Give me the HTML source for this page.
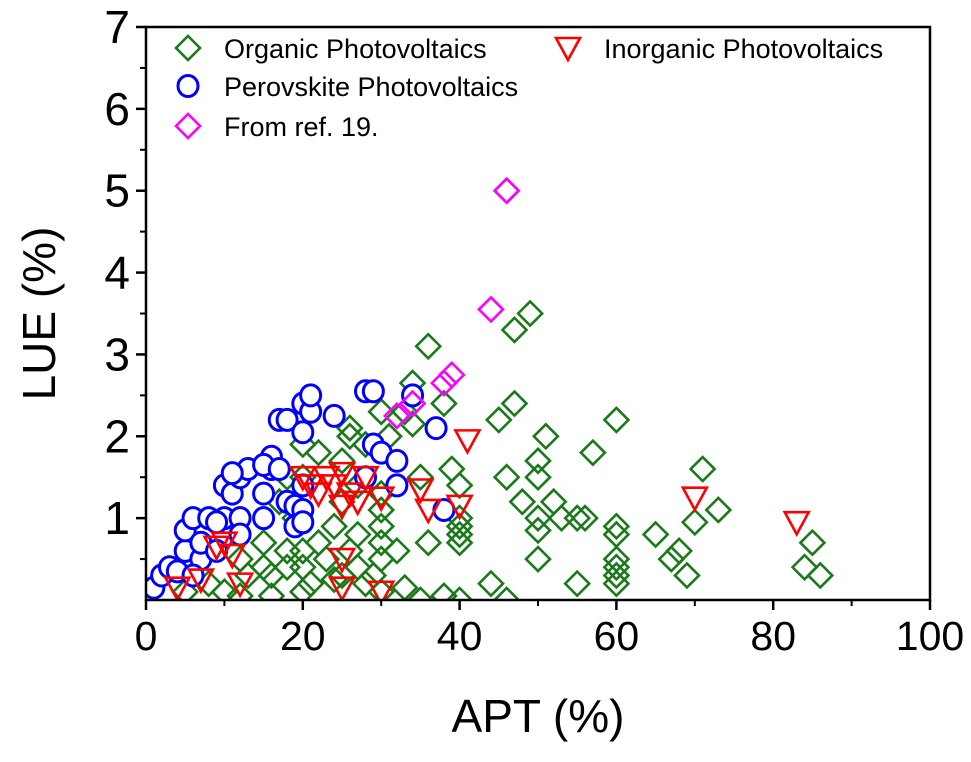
<!DOCTYPE html>
<html><head><meta charset="utf-8"><style>
body{margin:0;background:#fff}
svg text{font-family:"Liberation Sans",sans-serif}
</style></head><body>
<svg id="c" width="971" height="757" viewBox="0 0 971 757"></svg>
<script>
const organicX=[85,84,86,73,71,70,69,68,67,65,60,60,60,60,60,60,60,57,56,55,55,53,52,51,50,50,50,50,50,49,48,47,47,46,46,45,44,46,40,40,40,40,40,39,38,36,36,35,34,34,33,31,30,30,30,30,30,30,32,28,27,26,26,25,25,24,27,22,20,20,20,20,18,18,16,15,13,10,22,23,25,28,30,35,38,40,33,27,21,18,17,19,15,12,8,5,24,26,29,20,16,12];
const organicY=[0.7,0.4,0.3,1.1,1.6,0.95,0.3,0.6,0.5,0.8,2.2,0.9,0.8,0.5,0.4,0.3,0.2,1.8,1.0,0.2,1.0,1.0,1.2,2.0,1.7,1.5,1.0,0.85,0.5,3.5,1.2,3.3,2.4,5.0,1.5,2.2,0.2,0.0,1.4,1.0,0.9,0.8,0.7,1.6,2.4,3.1,0.7,1.5,2.65,2.15,2.3,2.0,2.3,1.3,1.1,0.9,0.7,0.5,0.6,1.9,1.4,2.0,2.1,1.7,1.2,0.9,0.8,1.8,1.9,1.5,0.6,0.4,0.6,0.4,0.3,0.4,0.3,0.1,0.7,0.5,0.3,0.2,0.1,0.0,0.05,0.0,0.15,0.4,0.2,1.5,1.2,1.0,0.7,0.5,0.2,0.1,0.25,0.6,0.3,0.1,0.05,0.05];
const perovX=[1,2,3,4,5,5,6,7,7,8,6,9,10,10,11,12,12,13,12,15,15,16,16,15,17,18,18,19,19,20,20,20,20,21,21,20,24,28,29,28,29,30,32,32,34,37,38,17,9,11];
const perovY=[0.15,0.3,0.4,0.35,0.6,0.85,1.0,0.5,0.7,1.0,0.3,0.6,1.4,1.0,1.3,1.5,1.0,1.6,0.8,1.3,1.0,1.6,1.75,1.65,2.2,2.2,1.2,0.9,1.15,1.1,1.4,2.05,2.4,2.3,2.5,0.95,2.25,2.55,2.55,1.5,1.9,1.8,1.4,1.7,2.5,2.1,1.1,1.6,0.95,1.55];
const inorgX=[4,7,9,10,11,12,20,21,22,23,24,25,26,25,27,28,30,25,25,30,35,36,40,41,70,83];
const inorgY=[0.15,0.25,0.65,0.7,0.55,0.2,1.5,1.4,1.3,1.5,1.4,1.55,1.3,1.15,1.2,1.5,1.25,0.5,0.15,0.1,1.35,1.1,1.15,1.95,1.25,0.95];
const refX=[46,44,39,38,34,32];
const refY=[5.0,3.55,2.75,2.65,2.4,2.25];
const xTicks=[0,20,40,60,80,100];
const yTicks=[1,2,3,4,5,6,7];

const L=146,R=930,T=27,B=600;
const sx=v=>L+(v/100)*(R-L);
const sy=v=>B-(v/7)*(B-T);
const svg=document.getElementById('c');
const NS='http://www.w3.org/2000/svg';
function mk(tag,attrs,parent){const e=document.createElementNS(NS,tag);for(const k in attrs)e.setAttribute(k,attrs[k]);(parent||svg).appendChild(e);return e;}

const clip=mk('clipPath',{id:'pc'});mk('rect',{x:L,y:T,width:R-L,height:B-T},clip);
const gPts=mk('g',{'clip-path':'url(#pc)'});



function diamond(x,y,col,p,name){const s=12;const e=mk('polygon',{points:`${x},${y-s} ${x+s},${y} ${x},${y+s} ${x-s},${y}`,fill:'none',stroke:col,'stroke-width':2.6},p);

return e;}
function circle(x,y,p){const e=mk('ellipse',{cx:x,cy:y,rx:10,ry:10.5,fill:'#fff',stroke:'#0000ff','stroke-width':3},p);

return e;}
function tri(x,y,p){const e=mk('polygon',{points:`${x-12},${y-10} ${x+12},${y-10} ${x},${y+12}`,fill:'none',stroke:'#ff0000','stroke-width':2.6},p);

return e;}

organicX.forEach((v,i)=>diamond(sx(v),sy(organicY[i]),'#1a7a1a',gPts,'organic-point'));
perovX.forEach((v,i)=>circle(sx(v),sy(perovY[i]),gPts));
inorgX.forEach((v,i)=>tri(sx(v),sy(inorgY[i]),gPts));
refX.forEach((v,i)=>diamond(sx(v),sy(refY[i]),'#ff00ff',gPts,'ref19-point'));

const frame=mk('rect',{x:L,y:T,width:R-L,height:B-T,fill:'none',stroke:'#000','stroke-width':2.5});



xTicks.forEach(v=>{mk('line',{x1:sx(v),x2:sx(v),y1:B,y2:B+10,stroke:'#000','stroke-width':2.5});
const t=mk('text',{x:sx(v),y:B+50,'text-anchor':'middle','font-size':41});t.textContent=v;

});
for(let v=10;v<100;v+=20)mk('line',{x1:sx(v),x2:sx(v),y1:B,y2:B+6,stroke:'#000','stroke-width':2});
yTicks.forEach(v=>{mk('line',{x1:L-10,x2:L,y1:sy(v),y2:sy(v),stroke:'#000','stroke-width':2.5});
const t=mk('text',{x:L-16,y:sy(v)+16,'text-anchor':'end','font-size':46});t.textContent=v;

});
for(let v=0.5;v<7;v+=1)mk('line',{x1:L-6,x2:L,y1:sy(v),y2:sy(v),stroke:'#000','stroke-width':2});

const xt=mk('text',{x:sx(50),y:732,'text-anchor':'middle','font-size':46});xt.textContent='APT (%)';


const yt=mk('text',{x:55,y:sy(3.5),'text-anchor':'middle','font-size':46,transform:`rotate(-90 55 ${sy(3.5)})`});yt.textContent='LUE (%)';



const lg=mk('g',{});


function entry(kind,x,y,label,name){const g=mk('g',{},lg);


if(kind==='o')diamond(x,y,'#1a7a1a',g,'legend-marker');else if(kind==='c')circle(x,y,g);else if(kind==='t')tri(x,y,g);else diamond(x,y,'#ff00ff',g,'legend-marker');
const t=mk('text',{x:x+36,y:y+10,'font-size':27},g);t.textContent=label;}
entry('o',188,48,'Organic Photovoltaics','legend-organic');
entry('t',568,48,'Inorganic Photovoltaics','legend-inorganic');
entry('c',188,86,'Perovskite Photovoltaics','legend-perovskite');
entry('m',188,126,'From ref. 19.','legend-ref19');
</script>
</body></html>
